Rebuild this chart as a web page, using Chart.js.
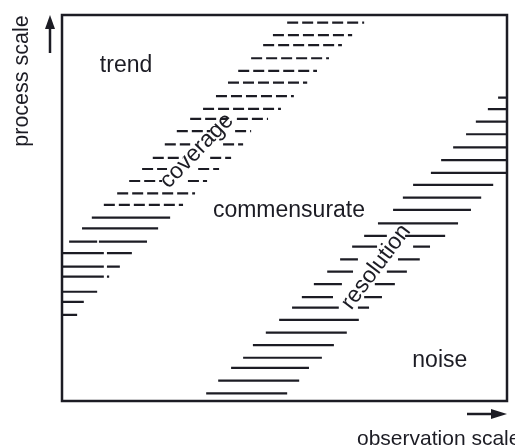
<!DOCTYPE html>
<html>
<head>
<meta charset="utf-8">
<script src="https://cdn.jsdelivr.net/npm/chart.js@4"></script>
<style>
  html, body { margin: 0; padding: 0; background: #fff; }
  #wrap { width: 515px; height: 448px; position: relative; }
</style>
</head>
<body>
<div id="wrap"><canvas id="scaleChart"></canvas></div>
<script>
// conceptual axes, 0..100 on both
const axisX = [0, 100];
const axisY = [0, 100];

// left band ("coverage"): row heights and the pieces of each row
const leftRowY = [98.0, 94.8, 92.2, 88.8, 85.5, 82.5, 79.0, 75.7, 73.1, 69.9, 66.5, 63.0, 60.1, 57.0, 53.8, 50.8,
                  47.5, 44.7, 41.3, 38.3, 34.8, 32.2, 28.3, 25.7, 22.3];
const leftRowSegs = [
    [[50.6, 67.9]], [[47.4, 65.2]], [[45.2, 62.9]], [[42.5, 60.0]], [[39.6, 57.3]], [[37.3, 55.1]],
    [[34.6, 52.1]], [[31.7, 49.2]],
    [[28.8, 37.1], [39.3, 46.3]], [[25.8, 33.3], [38.9, 42.5]], [[23.1, 28.8], [36.2, 40.7]],
    [[20.4, 27.2], [33.3, 38.0]], [[18.0, 23.6], [30.6, 35.3]], [[15.1, 22.5], [28.3, 32.6]],
    [[12.4, 29.9]], [[9.4, 27.2]],
    [[6.7, 24.3]], [[4.5, 21.6]], [[1.6, 7.9], [8.3, 19.1]], [[0, 9.4], [10.1, 15.7]],
    [[0, 9.4], [10.1, 13.0]], [[0, 9.4], [10.1, 10.6]], [[0, 7.9]], [[0, 4.9]], [[0, 3.4]]
];
const leftDashedCount = 16; // the first rows are drawn dashed

// right band ("resolution")
const rightRowY = [78.6, 75.6, 72.4, 69.1, 65.7, 62.4, 59.1, 56.0, 52.7, 49.5, 46.0, 42.8, 40.0, 36.7, 33.5,
                   30.3, 26.9, 24.2, 21.0, 17.7, 14.5, 11.2, 8.6, 5.3, 2.0];
const rightRowSegs = [
    [[98.0, 100]], [[95.7, 100]], [[93.0, 100]], [[90.8, 100]], [[87.9, 100]], [[85.2, 100]], [[82.9, 100]],
    [[78.9, 96.9]], [[76.6, 94.2]], [[74.4, 91.9]], [[71.0, 89.0]],
    [[67.9, 73.0], [77.1, 86.1]], [[65.2, 70.8], [78.9, 82.7]], [[62.5, 66.5], [75.5, 80.4]],
    [[59.6, 65.4], [73.0, 77.5]], [[56.6, 62.9], [70.3, 74.8]], [[53.9, 60.9], [67.9, 71.9]],
    [[51.7, 62.2], [66.5, 69.0]],
    [[48.8, 66.7]], [[45.8, 64.0]], [[42.9, 61.1]], [[40.7, 58.4]], [[38.0, 55.5]], [[35.1, 53.3]], [[32.4, 50.6]]
];

// region labels: [text, x, y, angle in degrees]
const regionLabels = [
    ["trend", 14.4, 85.2, 0],
    ["commensurate", 51.0, 47.7, 0],
    ["noise", 84.9, 8.8, 0],
    ["coverage", 30.3, 64.8, -46],
    ["resolution", 70.6, 34.7, -53]
];
const xTitle = "observation scale";
const yTitle = "process scale";

const INK = "#1c1c24";
const LABEL_FONT = "23px 'Liberation Sans', Arial, sans-serif";
const TITLE_FONT = "21px 'Liberation Sans', Arial, sans-serif";

// turn rows into one point list, with null breaks between pieces
function rowsToPoints(ys, segs, from, to) {
    let pts = [];
    for (let i = from; i < to; i++) {
        segs[i].forEach(function (s) {
            pts.push({ x: s[0], y: ys[i] });
            pts.push({ x: s[1], y: ys[i] });
            pts.push({ x: s[1], y: null });
        });
    }
    return pts;
}

function lineSet(points, dash) {
    return {
        data: points,
        showLine: true,
        spanGaps: false,
        borderColor: INK,
        borderWidth: 2.2,
        borderDash: dash,
        borderCapStyle: "butt",
        pointRadius: 0,
        pointHoverRadius: 0,
        fill: false
    };
}

// box, arrows and text
const decorPlugin = {
    id: "decor",
    afterDraw: function (chart) {
        const ctx = chart.ctx;
        const a = chart.chartArea;
        const xs = chart.scales.x, ys = chart.scales.y;
        ctx.save();

        // frame
        ctx.strokeStyle = INK;
        ctx.lineWidth = 2.5;
        ctx.strokeRect(a.left, a.top, a.right - a.left, a.bottom - a.top);

        // up arrow
        ctx.fillStyle = INK;
        ctx.lineWidth = 2.5;
        let ax = a.left - 12;
        ctx.beginPath();
        ctx.moveTo(ax, a.top + 38);
        ctx.lineTo(ax, a.top + 10);
        ctx.stroke();
        ctx.beginPath();
        ctx.moveTo(ax, a.top);
        ctx.lineTo(ax - 5, a.top + 14);
        ctx.lineTo(ax + 5, a.top + 14);
        ctx.closePath();
        ctx.fill();

        // right arrow
        let ay = a.bottom + 13;
        ctx.beginPath();
        ctx.moveTo(a.right - 40, ay);
        ctx.lineTo(a.right - 12, ay);
        ctx.stroke();
        ctx.beginPath();
        ctx.moveTo(a.right, ay);
        ctx.lineTo(a.right - 16, ay - 5);
        ctx.lineTo(a.right - 16, ay + 5);
        ctx.closePath();
        ctx.fill();

        ctx.font = LABEL_FONT;
        ctx.fillStyle = INK;

        regionLabels.forEach(function (l) {
            ctx.save();
            ctx.translate(xs.getPixelForValue(l[1]), ys.getPixelForValue(l[2]));
            if (l[3] !== 0) {
                ctx.rotate(l[3] * Math.PI / 180);
                ctx.textBaseline = "middle";
            } else {
                ctx.textBaseline = "alphabetic";
            }
            ctx.textAlign = "center";
            ctx.fillText(l[0], 0, 0);
            ctx.restore();
        });

        // axis titles
        ctx.font = TITLE_FONT;
        ctx.textAlign = "left";
        ctx.textBaseline = "alphabetic";
        ctx.fillText(xTitle, a.right - 150, a.bottom + 44);

        ctx.save();
        ctx.font = "21.5px 'Liberation Sans', Arial, sans-serif";
        ctx.textAlign = "center";
        ctx.translate(a.left - 34, a.top + 66);
        ctx.rotate(-Math.PI / 2);
        ctx.fillText(yTitle, 0, 0);
        ctx.restore();

        ctx.restore();
    }
};

window.onload = function () {
    let ctx = document.getElementById("scaleChart").getContext("2d");

    new Chart(ctx, {
        type: "scatter",
        data: {
            datasets: [
                lineSet(rowsToPoints(leftRowY, leftRowSegs, 0, leftDashedCount), [11, 4]),
                lineSet(rowsToPoints(leftRowY, leftRowSegs, leftDashedCount, leftRowY.length), []),
                lineSet(rowsToPoints(rightRowY, rightRowSegs, 0, rightRowY.length), [])
            ]
        },
        options: {
            responsive: true,
            maintainAspectRatio: false,
            animation: false,
            events: [],
            layout: { padding: { left: 62, right: 8, top: 15, bottom: 47 } },
            plugins: {
                legend: { display: false },
                tooltip: { enabled: false }
            },
            scales: {
                x: { type: "linear", display: false, min: axisX[0], max: axisX[1] },
                y: { type: "linear", display: false, min: axisY[0], max: axisY[1] }
            }
        },
        plugins: [decorPlugin]
    });
};
</script>
</body>
</html>
